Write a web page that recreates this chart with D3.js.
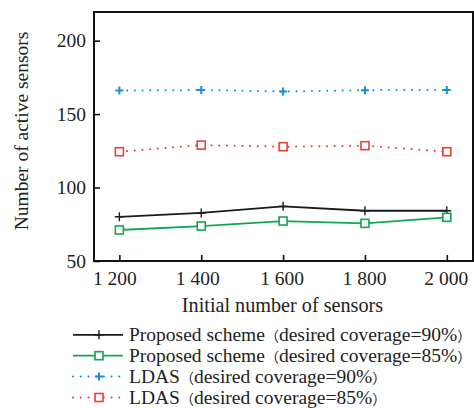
<!DOCTYPE html>
<html><head><meta charset="utf-8">
<script src="https://cdn.jsdelivr.net/npm/d3@7"></script>
<style>body{margin:0;background:#fff}svg{display:block}text{font-family:"Liberation Serif","Times New Roman",serif;fill:#222}</style>
</head><body><svg id="c" width="474" height="408"></svg>
<script>
const xValues = [1200, 1400, 1600, 1800, 2000];
const xTickLabels = ["1 200", "1 400", "1 600", "1 800", "2 000"];
const yTicks = [50, 100, 150, 200];
const proposed90 = [80.1, 82.7, 87.2, 84.2, 84.2];
const proposed85 = [71.1, 73.8, 77.2, 75.6, 79.7];
const ldas90 = [166.0, 166.4, 165.4, 166.3, 166.4];
const ldas85 = [124.4, 128.9, 127.8, 128.5, 124.4];
const seriesLabels = ["Proposed scheme", "Proposed scheme", "LDAS", "LDAS"];
const seriesCoverage = ["desired coverage=90%", "desired coverage=85%", "desired coverage=90%", "desired coverage=85%"];

const series = [
  {values: proposed90, color: "#1a1a1a", marker: "plus", dotted: false},
  {values: proposed85, color: "#10a652", marker: "square", dotted: false},
  {values: ldas90, color: "#1590d2", marker: "plus", dotted: true},
  {values: ldas85, color: "#e6403a", marker: "square", dotted: true}
];

const svg = d3.select("#c");
const L = 94, R = 473, T = 12, B = 261;
const x = d3.scaleLinear().domain([1138, 2064]).range([L, R]);
const y = d3.scaleLinear().domain([50, 219.5]).range([B, T]);

// axes (inward ticks)
const gy = svg.append("g").attr("transform", `translate(${L},0)`)
  .call(d3.axisLeft(y).tickValues(yTicks).tickSize(-6).tickPadding(8).tickFormat(d3.format("d")));
const gx = svg.append("g").attr("transform", `translate(0,${B})`)
  .call(d3.axisBottom(x).tickValues(xValues).tickSize(-6).tickPadding(10).tickFormat((d,i)=>xTickLabels[i]));
[gx, gy].forEach(g => {
  g.select(".domain").remove();
  g.selectAll(".tick line").attr("stroke", "#111").attr("stroke-width", 1.6);
  g.selectAll(".tick text").attr("font-size", 19.5).attr("fill", "#222");
});
gx.selectAll(".tick text").attr("y", 10).attr("dy", "0.71em").attr("dx", (d,i) => [-5, -4, -1.5, -1, -1][i]);

svg.append("rect").attr("x", L).attr("y", T).attr("width", R - L).attr("height", B - T)
  .attr("fill", "none").attr("stroke", "#111").attr("stroke-width", 2);

svg.append("text").attr("x", 282.5).attr("y", 312).attr("text-anchor", "middle")
  .attr("font-size", 20.2).text("Initial number of sensors");
svg.append("text").attr("transform", `translate(28,131) rotate(-90)`).attr("text-anchor", "middle")
  .attr("font-size", 19.5).text("Number of active sensors");

function drawMarker(g, type, cx, cy, color, dotted) {
  if (type === "plus") {
    const s = dotted ? 4 : 4.5;
    g.append("path").attr("d", `M${cx - s},${cy}H${cx + s}M${cx},${cy - s}V${cy + s}`)
      .attr("stroke", color).attr("stroke-width", dotted ? 2 : 1.4).attr("fill", "none");
  } else {
    g.append("rect").attr("x", cx - 4).attr("y", cy - 4).attr("width", 8).attr("height", 8)
      .attr("fill", "#fff").attr("stroke", color).attr("stroke-width", 1.6);
  }
}

const line = d3.line().x((d, i) => x(xValues[i])).y(d => y(d));
series.forEach(s => {
  const g = svg.append("g");
  g.append("path").attr("d", line(s.values)).attr("fill", "none").attr("stroke", s.color)
    .attr("stroke-width", s.dotted ? 2 : 1.8)
    .attr("stroke-dasharray", s.dotted ? "0.1 7.6" : null)
    .attr("stroke-linecap", s.dotted ? "round" : "butt");
  s.values.forEach((v, i) => drawMarker(g, s.marker, x(xValues[i]), y(v), s.color, s.dotted));
});

// legend
const lg = svg.append("g");
series.forEach((s, i) => {
  const ly = 334.8 + i * 20.9;
  lg.append("line").attr("x1", 73).attr("x2", 123).attr("y1", ly).attr("y2", ly)
    .attr("stroke", s.color).attr("stroke-width", s.dotted ? 2 : 1.8)
    .attr("stroke-dasharray", s.dotted ? "0.1 7.6" : null)
    .attr("stroke-linecap", s.dotted ? "round" : "butt");
  drawMarker(lg, s.marker, 99, ly, s.color, s.dotted);
  const t = lg.append("text").attr("x", 129).attr("y", ly).attr("dy", "0.33em").attr("font-size", 19.5);
  t.append("tspan").text(seriesLabels[i]);
  t.append("tspan").style("font-family", "'Noto Sans CJK SC'").attr("font-size", 14).text("（");
  t.append("tspan").text(seriesCoverage[i]);
  t.append("tspan").style("font-family", "'Noto Sans CJK SC'").attr("font-size", 14).text("）");
});
</script></body></html>
